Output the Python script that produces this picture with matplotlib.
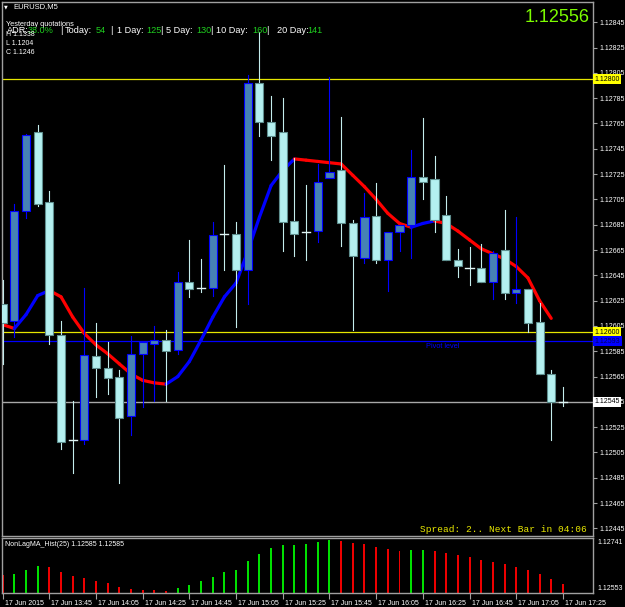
import matplotlib
matplotlib.use("Agg")
import matplotlib.pyplot as plt
from matplotlib.patches import Rectangle
from matplotlib.transforms import ScaledTranslation

# ---------------- data ----------------
opens = [1.12622, 1.12609, 1.12696, 1.12758, 1.12703, 1.12598, 1.12515, 1.12515, 1.12581, 1.12572,
         1.12565, 1.12534, 1.12583, 1.12591, 1.12594, 1.12586, 1.12640, 1.12635, 1.12635, 1.12678,
         1.12678, 1.12649, 1.12797, 1.12766, 1.12758, 1.12688, 1.12679, 1.12680, 1.12722, 1.12728,
         1.12686, 1.12659, 1.12692, 1.12657, 1.12679, 1.12685, 1.12723, 1.12721, 1.12693, 1.12657,
         1.12651, 1.12651, 1.12640, 1.12665, 1.12631, 1.12634, 1.12608, 1.12567, 1.12545]
highs = [1.12641, 1.12701, 1.12757, 1.12764, 1.12712, 1.12609, 1.12546, 1.12635, 1.12607, 1.12592,
         1.12570, 1.12597, 1.12592, 1.12605, 1.12602, 1.12648, 1.12673, 1.12658, 1.12687, 1.12732,
         1.12687, 1.12803, 1.12837, 1.12787, 1.12785, 1.12738, 1.12716, 1.12733, 1.12802, 1.12770,
         1.12689, 1.12710, 1.12718, 1.12679, 1.12685, 1.12744, 1.12769, 1.12739, 1.12708, 1.12666,
         1.12667, 1.12670, 1.12664, 1.12697, 1.12691, 1.12634, 1.12623, 1.12570, 1.12557]
lows = [1.12575, 1.12596, 1.12690, 1.12700, 1.12591, 1.12508, 1.12489, 1.12512, 1.12549, 1.12551,
        1.12481, 1.12519, 1.12541, 1.12546, 1.12546, 1.12583, 1.12628, 1.12632, 1.12629, 1.12649,
        1.12604, 1.12622, 1.12755, 1.12736, 1.12664, 1.12660, 1.12657, 1.12671, 1.12722, 1.12668,
        1.12602, 1.12655, 1.12655, 1.12633, 1.12664, 1.12659, 1.12705, 1.12679, 1.12657, 1.12644,
        1.12637, 1.12640, 1.12626, 1.12626, 1.12623, 1.12600, 1.12567, 1.12515, 1.12542]
closes = [1.12607, 1.12696, 1.12756, 1.12701, 1.12598, 1.12513, 1.12515, 1.12582, 1.12572, 1.12564,
          1.12532, 1.12583, 1.12592, 1.12594, 1.12585, 1.12640, 1.12634, 1.12635, 1.12677, 1.12678,
          1.12649, 1.12797, 1.12766, 1.12755, 1.12687, 1.12678, 1.12679, 1.12719, 1.12727, 1.12686,
          1.12660, 1.12691, 1.12657, 1.12679, 1.12685, 1.12723, 1.12719, 1.12689, 1.12657, 1.12652,
          1.12651, 1.12640, 1.12663, 1.12631, 1.12634, 1.12607, 1.12567, 1.12545, 1.12545]

nonlag_ma = [1.12606, 1.12603, 1.12614, 1.12629, 1.12633, 1.12628, 1.12612, 1.12599, 1.12590, 1.12583,
             1.12575, 1.12567, 1.12562, 1.12560, 1.12559, 1.12565, 1.12577, 1.12594, 1.12612, 1.12628,
             1.12639, 1.12664, 1.12691, 1.12716, 1.12728, 1.12737, 1.12736, 1.12735, 1.12734, 1.12733,
             1.12724, 1.12715, 1.12705, 1.12694, 1.12686, 1.12683, 1.12686, 1.12688, 1.12686, 1.12680,
             1.12673, 1.12666, 1.12662, 1.12658, 1.12652, 1.12643, 1.12625, 1.12611]

hist_values = [1.12618, 1.12621, 1.12635, 1.12647, 1.12645, 1.12627, 1.12612, 1.12606, 1.12597, 1.12590,
               1.12576, 1.12568, 1.12565, 1.12562, 1.12561, 1.12572, 1.12582, 1.12596, 1.12610, 1.12627,
               1.12636, 1.12667, 1.12692, 1.12712, 1.12722, 1.12723, 1.12727, 1.12734, 1.12741, 1.12737,
               1.12729, 1.12727, 1.12716, 1.12709, 1.12702, 1.12706, 1.12707, 1.12702, 1.12696, 1.12688,
               1.12681, 1.12670, 1.12664, 1.12656, 1.12646, 1.12635, 1.12622, 1.12603, 1.12585]

time_tick_idx = [0, 4, 8, 12, 16, 20, 24, 28, 32, 36, 40, 44, 48]
time_tick_labels = ['17 Jun 2015', '17 Jun 13:45', '17 Jun 14:05', '17 Jun 14:25', '17 Jun 14:45',
                    '17 Jun 15:05', '17 Jun 15:25', '17 Jun 15:45', '17 Jun 16:05', '17 Jun 16:25',
                    '17 Jun 16:45', '17 Jun 17:05', '17 Jun 17:25']

price_ticks = [1.12845, 1.12825, 1.12805, 1.12785, 1.12765, 1.12745, 1.12725, 1.12705, 1.12685,
               1.12665, 1.12645, 1.12625, 1.12605, 1.12585, 1.12565, 1.12545, 1.12525, 1.12505,
               1.12485, 1.12465, 1.12445]

level_high = 1.12800
level_low = 1.12600
pivot_level = 1.12593
bid_price = 1.12545
big_price = '1.12556'
hist_min, hist_max = 1.12553, 1.12741

adr_parts = [('ADR:', 'w'), ('38.0%', 'g'), ('|', 'w'), ('Today:', 'w'), ('54', 'g'), ('|', 'w'),
             ('1 Day:', 'w'), ('125', 'g'), ('|', 'w'), ('5 Day:', 'w'), ('130', 'g'), ('|', 'w'),
             ('10 Day:', 'w'), ('160', 'g'), ('|', 'w'), ('20 Day:', 'w'), ('141', 'g')]
adr_x = [6.7, 28, 60.5, 65, 96, 110.5, 117, 146, 160, 166, 196, 210, 216, 252, 266, 277, 307]

# ---------------- figure ----------------
W, H = 625, 607
fig = plt.figure(figsize=(W / 100, H / 100), dpi=100, facecolor='black')


def fx(px):
    return px / W


def fy(py):
    return 1 - py / H


ax = fig.add_axes([fx(2), fy(536), (593 - 2) / W, (536 - 2) / H], facecolor='black')
axl = fig.add_axes([fx(2), fy(593), (593 - 2) / W, (593 - 538) / H], facecolor='black')

frame = '#A0A0A0'
for a in (ax, axl):
    for s in a.spines.values():
        s.set_color(frame)
        s.set_linewidth(1.0)
    a.set_xlim(-0.06, 50.58)

ax.set_ylim(1.12439, 1.12861)
axl.set_ylim(hist_min, 1.12748)

# horizontal levels
ax.axhline(level_high, color='#E6E600', lw=0.9, zorder=1)
ax.axhline(level_low, color='#E6E600', lw=0.9, zorder=1)
ax.axhline(pivot_level, color='#0000FF', lw=0.9, zorder=1)
ax.axhline(bid_price, color='#A8A8A8', lw=1.0, zorder=1)

# NonLagMA line (colored by direction)
for i in range(1, len(nonlag_ma)):
    col = '#0000FF' if nonlag_ma[i] > nonlag_ma[i - 1] else '#FF0000'
    ax.plot([i - 1, i], [nonlag_ma[i - 1], nonlag_ma[i]], color=col, lw=2.3,
            solid_capstyle='round', zorder=2)

# candles
bw = 0.69
for i, (o, h, l, c) in enumerate(zip(opens, highs, lows, closes)):
    if c > o:
        wick, fill, edge = '#0000FF', '#4682B4', '#0000FF'
    else:
        wick, fill, edge = '#C4ECEC', '#B4F0F0', '#5F8F8F'
    ax.plot([i, i], [l, h], color=wick, lw=0.8, zorder=3)
    if c == o:
        ax.plot([i - bw / 2, i + bw / 2], [o, o], color='#E0F4F4', lw=1.0, zorder=4)
    else:
        ax.add_patch(Rectangle((i - bw / 2, min(o, c)), bw, abs(c - o), facecolor=fill,
                               edgecolor=edge, lw=0.8, zorder=4))

# right price axis
ax.yaxis.tick_right()
ax.set_yticks(price_ticks)
ax.set_yticklabels(['%.5f' % p for p in price_ticks])
ax.tick_params(axis='y', colors=frame, labelcolor='white', length=3, width=0.8,
               labelsize=5, pad=1.5)
for lab in ax.get_yticklabels():
    lab.set_fontfamily('Liberation Sans')
ax.set_xticks([])


def boxed(value, fc, tc='black'):
    ax.annotate('%.5f' % value, xy=(1.0, value), xycoords=('axes fraction', 'data'),
                xytext=(1.2, 0), textcoords='offset points', ha='left', va='center',
                fontsize=5, color=tc, family='Liberation Sans', zorder=10,
                annotation_clip=False,
                bbox=dict(boxstyle='square,pad=0.2', fc=fc, ec='none'))


boxed(level_high, '#FFFF00')
boxed(level_low, '#FFFF00')
boxed(pivot_level, '#0000FF', '#000060')
boxed(bid_price, '#FFFFFF')

# histogram panel
hist_colors = ['#EE0000'] + ['#00E000' if hist_values[i] > hist_values[i - 1] else '#EE0000'
                             for i in range(1, len(hist_values))]
axl.bar(range(len(hist_values)), [v - hist_min for v in hist_values], bottom=hist_min,
        width=0.17, color=hist_colors, zorder=2)
axl.set_yticks([])
axl.set_xticks(time_tick_idx)
axl.set_xticklabels(time_tick_labels)
axl.tick_params(axis='x', colors=frame, labelcolor='white', length=4, width=0.8,
                labelsize=5, pad=1)
for lab in axl.get_xticklabels():
    lab.set_ha('left')
    lab.set_fontfamily('Liberation Sans')
    lab.set_transform(lab.get_transform() + ScaledTranslation(2 / 100, 0, fig.dpi_scale_trans))

fig.text(fx(597), fy(543), '%.5f' % hist_max, color='white', fontsize=5,
         family='Liberation Sans', va='center', ha='left')
fig.text(fx(597), fy(589), '%.5f' % hist_min, color='white', fontsize=5,
         family='Liberation Sans', va='center', ha='left')
fig.text(fx(5), fy(544), 'NonLagMA_Hist(25) 1.12585 1.12585', color='white', fontsize=5,
         family='Liberation Sans', va='center', ha='left')

# overlay texts
fig.text(fx(3.5), fy(7), '\u25BC', color='white', fontsize=3.5, va='center', ha='left',
         family='DejaVu Sans')
fig.text(fx(13), fy(7), 'EURUSD,M5', color='white', fontsize=5.5, va='center', ha='left',
         family='Liberation Sans')
fig.text(fx(6), fy(25), 'Yesterday quotations', color='white', fontsize=5.3, va='center',
         ha='left', family='Liberation Sans')
for (t, c), x in zip(adr_parts, adr_x):
    fig.text(fx(x), fy(30.7), t, color='white' if c == 'w' else '#1FD01F', fontsize=6.6,
             va='center', ha='left', family='Liberation Sans')
for t, y in (('H 1.1338', 34.3), ('L 1.1204', 43.3), ('C 1.1246', 52.3)):
    fig.text(fx(6), fy(y), t, color='white', fontsize=5, va='center', ha='left',
             family='Liberation Sans')

fig.text(fx(590), fy(17), big_price, color='#7CFC00', fontsize=13, va='center', ha='right',
         family='Liberation Sans')
fig.text(fx(587), fy(529.5), 'Spread: 2.. Next Bar in 04:06', color='#E8E800', fontsize=6.8,
         va='center', ha='right', family='Liberation Mono')
fig.text(fx(426), fy(346.5), 'Pivot level', color='#0000FF', fontsize=5.3, va='center',
         ha='left', family='Liberation Sans')

fig.savefig('out.png', dpi=100, facecolor='black')
